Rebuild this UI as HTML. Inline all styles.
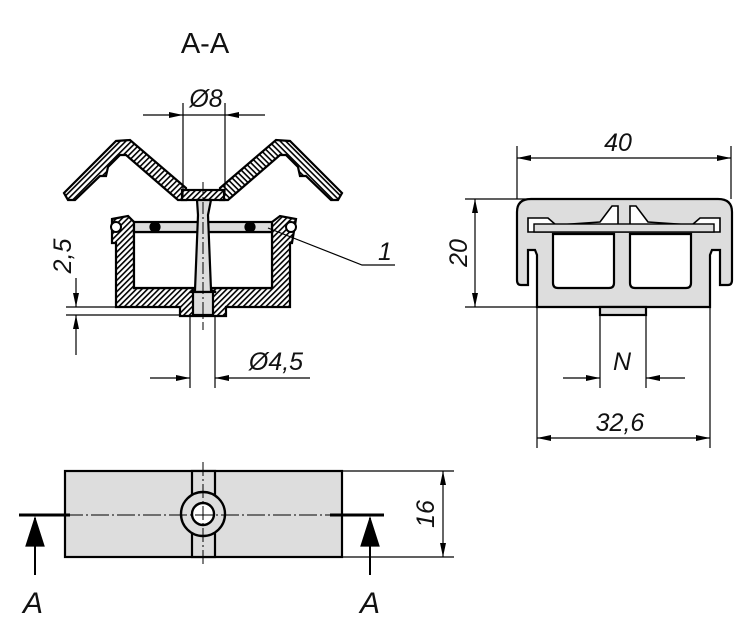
<!DOCTYPE html>
<html><head><meta charset="utf-8"><style>
html,body{margin:0;padding:0;background:#fff}
svg{display:block}
text{font-family:"Liberation Sans",sans-serif;font-style:italic;fill:#111}
</style></head><body>
<svg width="750" height="634" viewBox="0 0 750 634" xmlns="http://www.w3.org/2000/svg">
<defs>
<marker id="a" viewBox="0 0 14 6" refX="14" refY="3" markerWidth="14" markerHeight="6" markerUnits="userSpaceOnUse" orient="auto-start-reverse">
<path d="M0,0 L14,3 L0,6 z" fill="#000"/></marker>
<pattern id="h" width="4" height="4" patternUnits="userSpaceOnUse" patternTransform="rotate(45)">
<rect width="4" height="4" fill="#fff"/><rect width="1.6" height="4" fill="#000"/></pattern>
</defs>
<g stroke="#000" fill="none" stroke-width="1.2">
<text x="205" y="53" font-size="29" text-anchor="middle" style="font-style:normal" stroke="none">A-A</text>

<g stroke-width="2.2">
<path id="w" d="M64,193 L116,141 L130,140 L186,188 L186,200 L178,200 L126,155 L120,155 L108,167 L106,176 L100,176 L75,200 L68,200 Z" fill="url(#h)"/>
<use href="#w" transform="translate(406,0) scale(-1,1)"/>
<rect x="182" y="190" width="42" height="10" fill="url(#h)"/>
<path d="M112,219 L128,216 L134,222 L134,288 L272,288 L272,222 L280,216 L296,219 L292,243 L290,243 L290,307 L226,307 L226,316 L180,316 L180,307 L116,307 L116,243 L112,243 Z M134,232 L134,288 L272,288 L272,232 Z" fill="url(#h)" fill-rule="evenodd"/>
<path d="M134,232 L272,232 L272,288 L134,288 Z" fill="#fff"/>
<rect x="134" y="222" width="138" height="10" fill="#ddd"/>
<path d="M197,200 L211,200 L208,215 L211,290 L216,292 L190,292 L195,290 L198,215 Z" fill="#ddd"/>
<rect x="193" y="292" width="20" height="23" fill="#ddd"/>
</g>
<circle cx="155" cy="227" r="5" fill="#000"/>
<circle cx="250" cy="227" r="5" fill="#000"/>
<circle cx="116" cy="227" r="5" fill="#fff" stroke-width="2"/>
<circle cx="291" cy="227" r="5" fill="#fff" stroke-width="2"/>
<line x1="203" y1="182" x2="203" y2="330" stroke-dasharray="12,3,2,3" stroke-width="1"/>
<polyline points="268,228 362,265 395,265"/>
<text x="378" y="260" font-size="25" stroke="none">1</text>
<line x1="183" y1="103" x2="183" y2="196"/><line x1="225" y1="103" x2="225" y2="196"/>
<line x1="143" y1="115" x2="183" y2="115" marker-end="url(#a)"/>
<line x1="265" y1="115" x2="225" y2="115" marker-end="url(#a)"/>
<line x1="183" y1="115" x2="225" y2="115"/>
<text x="206" y="107" font-size="25" text-anchor="middle" stroke="none">Ø8</text>
<line x1="190" y1="316" x2="190" y2="388"/><line x1="215" y1="316" x2="215" y2="388"/>
<line x1="150" y1="378" x2="190" y2="378" marker-end="url(#a)"/>
<line x1="310" y1="378" x2="215" y2="378" marker-end="url(#a)"/>
<text x="276" y="370" font-size="25" text-anchor="middle" stroke="none">Ø4,5</text>
<line x1="66" y1="307" x2="116" y2="307"/><line x1="66" y1="315" x2="180" y2="315"/>
<line x1="76" y1="278" x2="76" y2="307" marker-end="url(#a)"/>
<line x1="76" y1="355" x2="76" y2="315" marker-end="url(#a)"/>
<text transform="translate(71,256) rotate(-90)" font-size="25" text-anchor="middle" stroke="none">2,5</text>

<g stroke-width="2.2" fill="#ddd">
<path d="M537,307 L710,307 L710,255 L712,250 L720,250 L720,285 L728,285 Q732,285 732,280 L732,212 Q732,199 718,199 L531,199 Q517,199 517,212 L517,280 Q517,285 521,285 L528,285 L528,250 L535,250 L537,255 Z"/>
<rect x="600" y="307" width="46" height="8"/>
<path d="M553,234 L614,234 L614,283 Q614,288 609,288 L558,288 Q553,288 553,283 Z" fill="#fff"/>
<path d="M630,234 L691,234 L691,283 Q691,288 686,288 L635,288 Q630,288 630,283 Z" fill="#fff"/>
<path d="M528,218 L548,218 L556,225 L600,222 L612,206 L618,206 L618,232 L630,232 L630,206 L636,206 L648,222 L692,225 L700,218 L720,218 L720,232 L528,232 Z" fill="#fff" stroke-width="1.6"/>
<rect x="534" y="224" width="180" height="8" fill="#ddd" stroke-width="1.4"/>
</g>
<line x1="517" y1="146" x2="517" y2="199"/><line x1="731" y1="146" x2="731" y2="199"/>
<line x1="517" y1="158" x2="731" y2="158" marker-start="url(#a)" marker-end="url(#a)"/>
<text x="618" y="151" font-size="25" text-anchor="middle" stroke="none">40</text>
<line x1="465" y1="199" x2="530" y2="199"/><line x1="465" y1="307" x2="537" y2="307"/>
<line x1="475" y1="199" x2="475" y2="307" marker-start="url(#a)" marker-end="url(#a)"/>
<text transform="translate(467,253) rotate(-90)" font-size="25" text-anchor="middle" stroke="none">20</text>
<line x1="600" y1="315" x2="600" y2="388"/><line x1="646" y1="315" x2="646" y2="388"/>
<line x1="563" y1="378" x2="600" y2="378" marker-end="url(#a)"/>
<line x1="685" y1="378" x2="646" y2="378" marker-end="url(#a)"/>
<text x="622" y="370" font-size="25" text-anchor="middle" stroke="none">N</text>
<line x1="537" y1="307" x2="537" y2="448"/><line x1="710" y1="307" x2="710" y2="448"/>
<line x1="537" y1="438" x2="710" y2="438" marker-start="url(#a)" marker-end="url(#a)"/>
<text x="620" y="431" font-size="25" text-anchor="middle" stroke="none">32,6</text>

<rect x="65" y="471" width="277" height="86" fill="#ddd" stroke-width="2.2"/>
<rect x="192" y="471" width="23" height="86" fill="#ddd" stroke-width="2.2"/>
<circle cx="203" cy="514" r="22" fill="#ddd" stroke-width="2.4"/>
<circle cx="203" cy="514" r="11" fill="#fff" stroke-width="2.4"/>
<line x1="203" y1="462" x2="203" y2="567" stroke-dasharray="14,3,2,3" stroke-width="1"/>
<line x1="65" y1="515" x2="342" y2="515" stroke-dasharray="18,3,2,3" stroke-width="1"/>
<line x1="19" y1="515" x2="70" y2="515" stroke-width="3"/>
<line x1="330" y1="515" x2="384" y2="515" stroke-width="3"/>
<line x1="35" y1="575" x2="35" y2="518" stroke-width="2"/>
<path d="M26,546 L35,518 L44,546 Z" fill="#000"/>
<line x1="370" y1="575" x2="370" y2="518" stroke-width="2"/>
<path d="M361,546 L370,518 L379,546 Z" fill="#000"/>
<text x="33" y="613" font-size="30" text-anchor="middle" stroke="none">A</text>
<text x="370" y="613" font-size="30" text-anchor="middle" stroke="none">A</text>
<line x1="342" y1="471" x2="454" y2="471"/><line x1="342" y1="557" x2="454" y2="557"/>
<line x1="443" y1="471" x2="443" y2="557" marker-start="url(#a)" marker-end="url(#a)"/>
<text transform="translate(434,514) rotate(-90)" font-size="25" text-anchor="middle" stroke="none">16</text>
</g>
</svg>
</body></html>
